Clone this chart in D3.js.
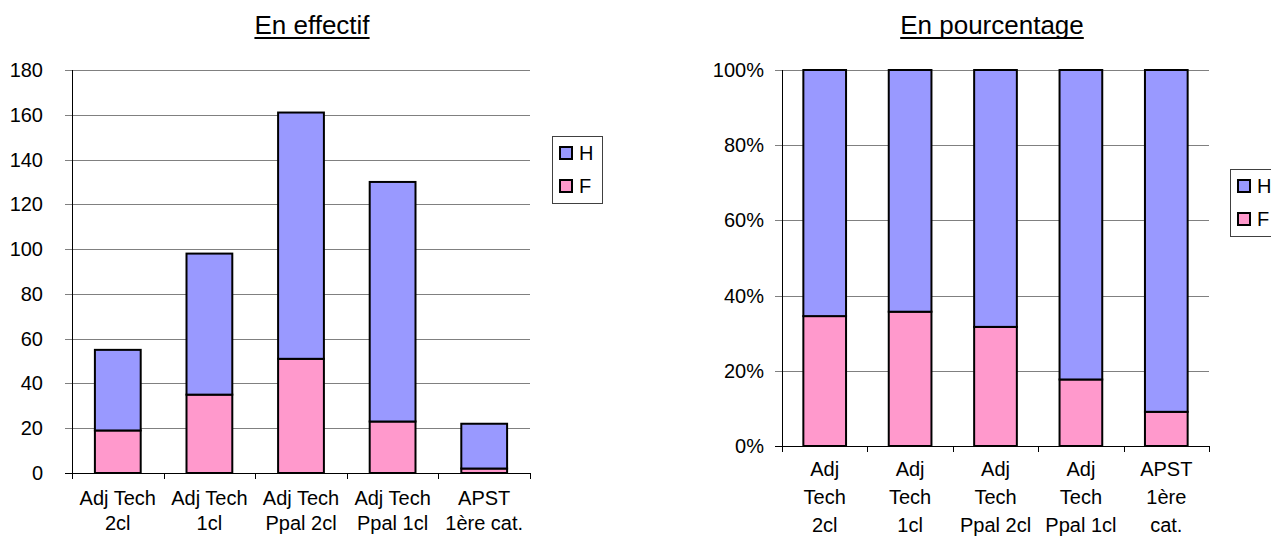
<!DOCTYPE html>
<html>
<head>
<meta charset="utf-8">
<script src="https://cdn.jsdelivr.net/npm/d3@7"></script>
<style>
  body { margin: 0; background: #fff; }
</style>
</head>
<body>
<div id="chart"></div>
<script>
// Data
const categories = ["Adj Tech 2cl", "Adj Tech 1cl", "Adj Tech Ppal 2cl", "Adj Tech Ppal 1cl", "APST 1ère cat."];
const seriesNames = ["F", "H"];               // stacking order, bottom to top
const legendOrder = ["H", "F"];
const femmes = [19, 35, 51, 23, 2];
const hommes = [36, 63, 110, 107, 20];
const countTicks = [0, 20, 40, 60, 80, 100, 120, 140, 160, 180];
const percentTicks = [0, 0.2, 0.4, 0.6, 0.8, 1];
const labelsCount = [["Adj Tech", "2cl"], ["Adj Tech", "1cl"], ["Adj Tech", "Ppal 2cl"], ["Adj Tech", "Ppal 1cl"], ["APST", "1ère cat."]];
const labelsPercent = [["Adj", "Tech", "2cl"], ["Adj", "Tech", "1cl"], ["Adj", "Tech", "Ppal 2cl"], ["Adj", "Tech", "Ppal 1cl"], ["APST", "1ère", "cat."]];

const width = 1271;
const height = 541;
const font = "Arial, 'Liberation Sans', sans-serif";
const colors = { H: "#9999FF", F: "#FF99CC" };

const table = categories.map((c, i) => ({ cat: c, F: femmes[i], H: hommes[i] }));

const svg = d3.select("#chart")
  .append("svg")
  .attr("width", width)
  .attr("height", height)
  .style("font-family", font);

function drawPanel(p) {
  const g = svg.append("g");

  const x = d3.scaleBand()
    .domain(categories)
    .range([p.x0, p.x1])
    .paddingInner(0.5)
    .paddingOuter(0.25);
  const step = (p.x1 - p.x0) / categories.length;

  const y = d3.scaleLinear()
    .domain([0, p.max])
    .range([p.yBase, p.yTop]);

  // gridlines
  g.selectAll(".grid")
    .data(p.ticks.filter(t => t > 0))
    .join("line")
    .attr("x1", p.x0 - 7)
    .attr("x2", p.x1)
    .attr("y1", d => Math.round(y(d)) + 0.5)
    .attr("y2", d => Math.round(y(d)) + 0.5)
    .attr("stroke", "#808080")
    .attr("stroke-width", 1);

  // y tick labels
  g.selectAll(".ylab")
    .data(p.ticks)
    .join("text")
    .attr("x", p.labelRight)
    .attr("y", d => y(d))
    .attr("dy", "0.35em")
    .attr("text-anchor", "end")
    .style("font-size", "20px")
    .text(p.fmt);

  // stacked bars
  const stack = d3.stack().keys(seriesNames);
  if (p.expand) stack.offset(d3.stackOffsetExpand);
  const layers = stack(table);

  g.selectAll(".layer")
    .data(layers)
    .join("g")
    .attr("fill", d => colors[d.key])
    .selectAll("rect")
    .data(d => d)
    .join("rect")
    .attr("x", d => x(d.data.cat))
    .attr("width", x.bandwidth())
    .attr("y", d => y(d[1]))
    .attr("height", d => y(d[0]) - y(d[1]))
    .attr("stroke", "#000")
    .attr("stroke-width", 2);

  // axes
  g.append("line")
    .attr("x1", p.x0 - 7).attr("x2", p.x1)
    .attr("y1", Math.round(p.yBase) + 0.5).attr("y2", Math.round(p.yBase) + 0.5)
    .attr("stroke", "#000");
  g.append("line")
    .attr("x1", Math.round(p.x0) + 0.5).attr("x2", Math.round(p.x0) + 0.5)
    .attr("y1", p.yTop).attr("y2", p.yBase + 6)
    .attr("stroke", "#000");
  g.selectAll(".xtick")
    .data(d3.range(1, categories.length + 1))
    .join("line")
    .attr("x1", i => Math.round(p.x0 + i * step) + 0.5)
    .attr("x2", i => Math.round(p.x0 + i * step) + 0.5)
    .attr("y1", p.yBase)
    .attr("y2", p.yBase + 6)
    .attr("stroke", "#000");

  // category labels
  g.selectAll(".xlab")
    .data(categories)
    .join("text")
    .attr("text-anchor", "middle")
    .style("font-size", "20px")
    .selectAll("tspan")
    .data((c, i) => p.labels[i].map(l => ({ c, l })))
    .join("tspan")
    .attr("x", d => x(d.c) + x.bandwidth() / 2)
    .attr("y", (d, j) => p.labelY + j * p.lineH)
    .text(d => d.l);

  // title (underlined)
  const title = g.append("text")
    .attr("x", p.titleX)
    .attr("y", 34)
    .attr("text-anchor", "middle")
    .style("font-size", "26px")
    .text(p.title);
  const tw = title.node().getComputedTextLength();
  g.append("line")
    .attr("x1", p.titleX - tw / 2).attr("x2", p.titleX + tw / 2)
    .attr("y1", 38).attr("y2", 38)
    .attr("stroke", "#000")
    .attr("stroke-width", 2);

  // legend
  const lg = g.append("g").attr("transform", `translate(${p.legendX},${p.legendY})`);
  lg.append("rect")
    .attr("x", 0.5).attr("y", 0.5)
    .attr("width", 50).attr("height", 67)
    .attr("fill", "#fff")
    .attr("stroke", "#404040");
  const items = lg.selectAll(".item")
    .data(legendOrder)
    .join("g")
    .attr("transform", (d, i) => `translate(8,${11 + i * 33})`);
  items.append("rect")
    .attr("width", 12).attr("height", 12)
    .attr("fill", d => colors[d])
    .attr("stroke", "#000")
    .attr("stroke-width", 2);
  items.append("text")
    .attr("x", 19)
    .attr("y", 13)
    .style("font-size", "20px")
    .text(d => d);
}

drawPanel({
  x0: 72, x1: 530, yBase: 473, yTop: 70,
  max: 180, ticks: countTicks, fmt: d => d, expand: false,
  labelRight: 43, labels: labelsCount, labelY: 505, lineH: 25,
  title: "En effectif", titleX: 312,
  legendX: 552, legendY: 136
});

drawPanel({
  x0: 782, x1: 1209, yBase: 446, yTop: 70,
  max: 1, ticks: percentTicks, fmt: d3.format(".0%"), expand: true,
  labelRight: 764, labels: labelsPercent, labelY: 476, lineH: 28,
  title: "En pourcentage", titleX: 992,
  legendX: 1230, legendY: 169
});
</script>
</body>
</html>
